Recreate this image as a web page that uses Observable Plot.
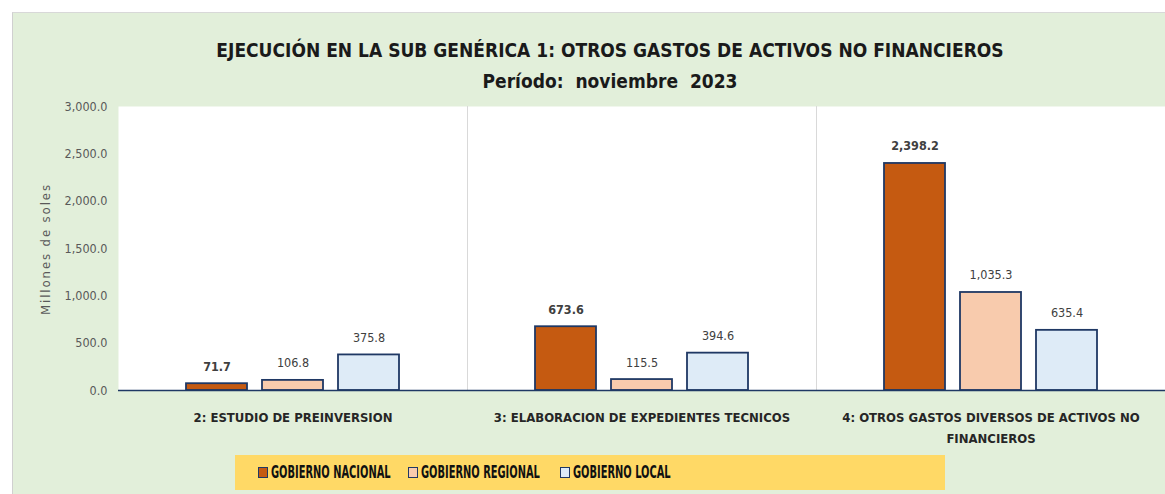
<!DOCTYPE html>
<html><head><meta charset="utf-8">
<script src="https://cdn.jsdelivr.net/npm/d3@7"></script>
<script src="https://cdn.jsdelivr.net/npm/@observablehq/plot@0.6"></script>
<style>
html,body{margin:0;padding:0;background:#fff;}
#wrap{position:relative;width:1165px;height:494px;overflow:hidden;font-family:"Liberation Sans Narrow","DejaVu Sans Condensed",Lato,sans-serif;}
#panel{position:absolute;left:12px;top:12px;width:1160px;height:490px;background:#E2EFDA;border-left:1px solid #d0d0d0;border-top:1px solid #d8d8d8;}
#title{position:absolute;left:0;width:1220px;top:35px;text-align:center;font-weight:bold;font-size:19px;color:#1a1a1a;line-height:31px;}
#ylab{position:absolute;left:45px;top:249px;transform:translate(-50%,-50%) rotate(-90deg);font-size:13px;color:#595959;white-space:nowrap;letter-spacing:1.9px;}
#chart{position:absolute;left:0;top:95px;}
#legend{position:absolute;left:235px;top:455px;width:710px;height:35px;background:#FFD966;font-weight:bold;font-size:18px;color:#111;}
.sw{position:absolute;top:12px;width:8px;height:9px;border:1.5px solid #1F3864;}
.lt{position:absolute;top:6px;white-space:nowrap;transform:scaleX(0.61);transform-origin:left center;}
</style></head>
<body><div id="wrap"><div id="panel"></div>
<div id="title">EJECUCIÓN EN LA SUB GENÉRICA 1: OTROS GASTOS DE ACTIVOS NO FINANCIEROS<br>Período:&nbsp; noviembre&nbsp; 2023</div>
<div id="ylab">Millones de soles</div>
<div id="chart"></div>
<div id="legend"></div>
</div>
<script>
const categories = ["2: ESTUDIO DE PREINVERSION", "3: ELABORACION DE EXPEDIENTES TECNICOS", "4: OTROS GASTOS DIVERSOS DE ACTIVOS NO FINANCIEROS"];
const series = ["GOBIERNO NACIONAL", "GOBIERNO REGIONAL", "GOBIERNO LOCAL"];
const nacional = [71.7, 673.6, 2398.2];
const regional = [106.8, 115.5, 1035.3];
const local = [375.8, 394.6, 635.4];
const colors = ["#C55A11", "#F8CBAD", "#DEEBF7"];
const yTicks = [0, 500, 1000, 1500, 2000, 2500, 3000];

const values = [nacional, regional, local];
const data = [];
categories.forEach((c, i) => series.forEach((s, j) => data.push({cat: c, ser: s, v: values[j][i]})));

const fmt = d3.format(",.1f");
const chart = Plot.plot({
  width: 1165, height: 360,
  marginTop: 11, marginBottom: 65, marginLeft: 117, marginRight: 0,
  style: {background: "transparent", fontFamily: '"Liberation Sans Narrow","DejaVu Sans Condensed",Lato,sans-serif'},
  fx: {domain: categories, padding: 0, label: null},
  x: {domain: series, paddingInner: 0.195, paddingOuter: 0.866, axis: null},
  y: {domain: [0, 3000], label: null},
  color: {domain: series, range: colors},
  marks: [
    Plot.frame({fill: "white"}),
    Plot.frame({anchor: "right", stroke: "#d9d9d9"}),
    Plot.axisY({ticks: yTicks, tickFormat: fmt, tickSize: 0, tickPadding: 11, fontSize: 12.5, color: "#595959", label: null}),
    Plot.axisFx({anchor: "bottom", tickSize: 0, tickPadding: 16, fontSize: 13, fontWeight: "bold", color: "#262626", lineHeight: 1.65,
      tickFormat: d => d.replace(" FINANCIEROS", "\nFINANCIEROS"), label: null}),
    Plot.barY(data, {fx: "cat", x: "ser", y: "v", fill: "ser", stroke: "#1F3864", strokeWidth: 1.8}),
    Plot.ruleY([0], {stroke: "#1F3864", strokeWidth: 1.5}),
    Plot.text(data.filter(d => d.ser === series[0]), {fx: "cat", x: "ser", y: "v", text: d => fmt(d.v), dy: -17, fontWeight: "bold", fontSize: 12.5, fill: "#404040"}),
    Plot.text(data.filter(d => d.ser !== series[0]), {fx: "cat", x: "ser", y: "v", text: d => fmt(d.v), dy: -17, fontSize: 12.5, fill: "#404040"})
  ]
});
document.getElementById("chart").appendChild(chart);

const leg = document.getElementById("legend");
const lx = [23, 173, 325];
series.forEach((s, i) => {
  const sw = document.createElement("div");
  sw.className = "sw"; sw.style.left = lx[i] + "px"; sw.style.background = colors[i];
  leg.appendChild(sw);
  const t = document.createElement("div");
  t.className = "lt"; t.style.left = (lx[i] + 13) + "px"; t.textContent = s;
  leg.appendChild(t);
});
</script></body></html>
